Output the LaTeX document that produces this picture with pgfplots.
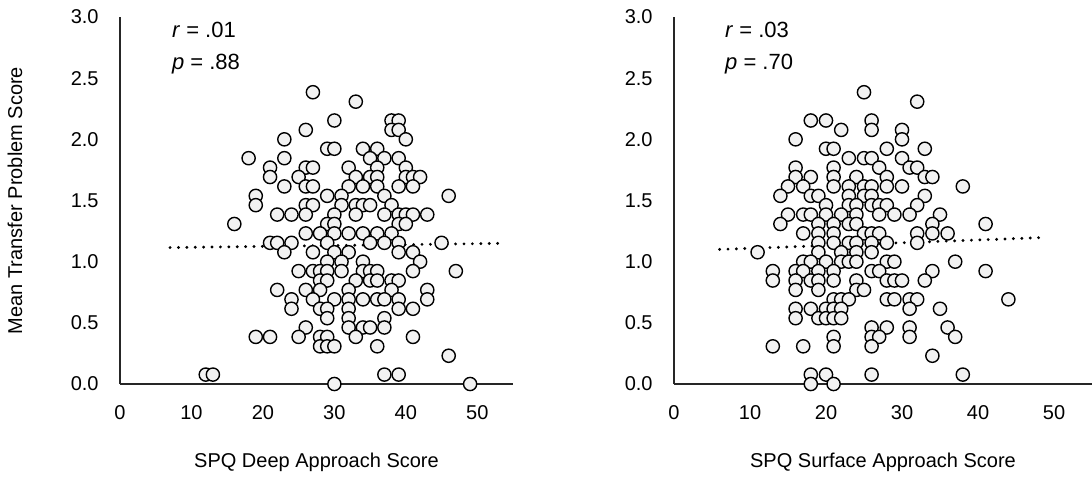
\documentclass[border=0pt]{standalone}
\usepackage{fontspec}
\setmainfont{Liberation Sans}
\usepackage{pgfplots}
\pgfplotsset{compat=1.18}
\usepackage{pgfplotstable}
\definecolor{markfill}{RGB}{242,242,242}

% mean transfer score vs SPQ deep approach score
\pgfplotstableread{
x y
27 2.385
33 2.308
30 2.154
38 2.154
39 2.154
26 2.077
38 2.077
39 2.077
23 2.000
40 2.000
29 1.923
30 1.923
34 1.923
36 1.923
18 1.846
23 1.846
35 1.846
37 1.846
39 1.846
21 1.769
26 1.769
27 1.769
32 1.769
36 1.769
40 1.769
21 1.692
25 1.692
33 1.692
35 1.692
36 1.692
40 1.692
41 1.692
42 1.692
23 1.615
26 1.615
27 1.615
32 1.615
34 1.615
36 1.615
39 1.615
41 1.615
19 1.538
29 1.538
31 1.538
37 1.538
46 1.538
19 1.462
26 1.462
27 1.462
31 1.462
33 1.462
34 1.462
35 1.462
38 1.462
22 1.385
24 1.385
26 1.385
30 1.385
33 1.385
37 1.385
39 1.385
40 1.385
41 1.385
43 1.385
16 1.308
29 1.308
30 1.308
39 1.308
40 1.308
26 1.231
28 1.231
30 1.231
32 1.231
34 1.231
36 1.231
38 1.231
21 1.154
22 1.154
24 1.154
29 1.154
35 1.154
37 1.154
39 1.154
45 1.154
23 1.077
27 1.077
30 1.077
32 1.077
39 1.077
41 1.077
29 1.000
31 1.000
34 1.000
42 1.000
25 0.923
27 0.923
28 0.923
29 0.923
31 0.923
34 0.923
35 0.923
36 0.923
41 0.923
47 0.923
28 0.846
29 0.846
33 0.846
35 0.846
36 0.846
38 0.846
39 0.846
22 0.769
26 0.769
28 0.769
32 0.769
38 0.769
43 0.769
24 0.692
27 0.692
30 0.692
32 0.692
34 0.692
36 0.692
37 0.692
39 0.692
43 0.692
24 0.615
28 0.615
29 0.615
32 0.615
39 0.615
41 0.615
29 0.538
32 0.538
37 0.538
26 0.462
32 0.462
34 0.462
35 0.462
37 0.462
19 0.385
21 0.385
25 0.385
28 0.385
29 0.385
33 0.385
41 0.385
28 0.308
29 0.308
30 0.308
36 0.308
46 0.231
12 0.077
13 0.077
37 0.077
39 0.077
30 0.000
49 0.000
}\deepdata

% mean transfer score vs SPQ surface approach score
\pgfplotstableread{
x y
25 2.385
32 2.308
18 2.154
20 2.154
26 2.154
22 2.077
26 2.077
30 2.077
16 2.000
30 2.000
20 1.923
21 1.923
28 1.923
33 1.923
23 1.846
25 1.846
26 1.846
30 1.846
16 1.769
21 1.769
27 1.769
31 1.769
32 1.769
16 1.692
18 1.692
21 1.692
24 1.692
28 1.692
33 1.692
34 1.692
15 1.615
17 1.615
21 1.615
23 1.615
25 1.615
26 1.615
28 1.615
30 1.615
38 1.615
14 1.538
18 1.538
19 1.538
23 1.538
25 1.538
26 1.538
33 1.538
20 1.462
23 1.462
24 1.462
26 1.462
27 1.462
28 1.462
32 1.462
15 1.385
17 1.385
18 1.385
20 1.385
22 1.385
24 1.385
27 1.385
29 1.385
31 1.385
35 1.385
14 1.308
19 1.308
21 1.308
23 1.308
24 1.308
34 1.308
41 1.308
17 1.231
19 1.231
21 1.231
25 1.231
26 1.231
27 1.231
32 1.231
34 1.231
36 1.231
19 1.154
21 1.154
23 1.154
24 1.154
26 1.154
28 1.154
32 1.154
11 1.077
19 1.077
22 1.077
24 1.077
26 1.077
17 1.000
18 1.000
20 1.000
22 1.000
23 1.000
24 1.000
28 1.000
29 1.000
37 1.000
13 0.923
16 0.923
17 0.923
19 0.923
21 0.923
26 0.923
27 0.923
34 0.923
41 0.923
13 0.846
16 0.846
18 0.846
19 0.846
21 0.846
24 0.846
28 0.846
29 0.846
30 0.846
33 0.846
16 0.769
19 0.769
24 0.769
25 0.769
21 0.692
22 0.692
23 0.692
28 0.692
29 0.692
31 0.692
32 0.692
44 0.692
16 0.615
18 0.615
20 0.615
21 0.615
22 0.615
31 0.615
35 0.615
16 0.538
19 0.538
20 0.538
21 0.538
22 0.538
26 0.462
28 0.462
31 0.462
36 0.462
21 0.385
26 0.385
27 0.385
31 0.385
37 0.385
13 0.308
17 0.308
21 0.308
26 0.308
34 0.231
18 0.077
20 0.077
26 0.077
38 0.077
18 0.000
21 0.000
}\surfdata

\pgfplotsset{
  spq/.style={
    scale only axis, height=183.5pt,
    xmin=0, xmax=55, ymin=0, ymax=3,
    axis x line=bottom, axis y line=left,
    axis line style={-, black!85, line width=0.7pt},
    xtick={0,10,20,30,40,50},
    ytick={0,0.5,1,1.5,2,2.5,3},
    major tick length=0pt,
    clip=false,
    /pgf/number format/assume math mode=true,
    tick label style={font=\fontsize{10}{12}\selectfont, black},
    xticklabel style={anchor=north, inner sep=0pt, yshift=-10.5pt},
    yticklabel style={anchor=east, inner sep=0pt, xshift=-10.5pt,
      /pgf/number format/.cd, fixed, fixed zerofill, precision=1},
    label style={font=\fontsize{10}{12}\selectfont},
    xlabel style={at={([yshift=-39pt]axis description cs:0.5,0)}, anchor=center},
  },
  dots/.style={only marks, mark=*, mark size=3.3pt,
    mark options={fill=markfill, draw=black, line width=0.7pt}},
  trend/.style={black, line width=1.6pt, line cap=round,
    dash pattern=on 0pt off 4.2pt},
}

\begin{document}
\begin{tikzpicture}
\path[use as bounding box] (0,0) rectangle (546pt,242pt);

\begin{axis}[spq, at={(60pt,50pt)}, anchor=south west, width=196.5pt,
  xlabel={SPQ Deep Approach Score},
  ylabel={Mean Transfer Problem Score},
  ylabel style={at={([xshift=-52.5pt]axis description cs:0,0.5)}, anchor=center, rotate=0}]
\addplot[dots] table[x=x,y=y] {\deepdata};
\addplot[trend] coordinates {(7,1.115) (54,1.150)};
\node[anchor=base west, font=\fontsize{11}{13}\selectfont] at (axis cs:6.3,2.83) {\textit{r} = .01};
\node[anchor=base west, font=\fontsize{11}{13}\selectfont] at (axis cs:6.3,2.57) {\textit{p} = .88};
\end{axis}

\begin{axis}[spq, at={(337pt,50pt)}, anchor=south west, width=209pt,
  xlabel={SPQ Surface Approach Score}]
\addplot[dots] table[x=x,y=y] {\surfdata};
\addplot[trend] coordinates {(6,1.10) (49,1.198)};
\node[anchor=base west, font=\fontsize{11}{13}\selectfont] at (axis cs:5.8,2.83) {\textit{r} = .03};
\node[anchor=base west, font=\fontsize{11}{13}\selectfont] at (axis cs:5.8,2.57) {\textit{p} = .70};
\end{axis}
\end{tikzpicture}
\end{document}
